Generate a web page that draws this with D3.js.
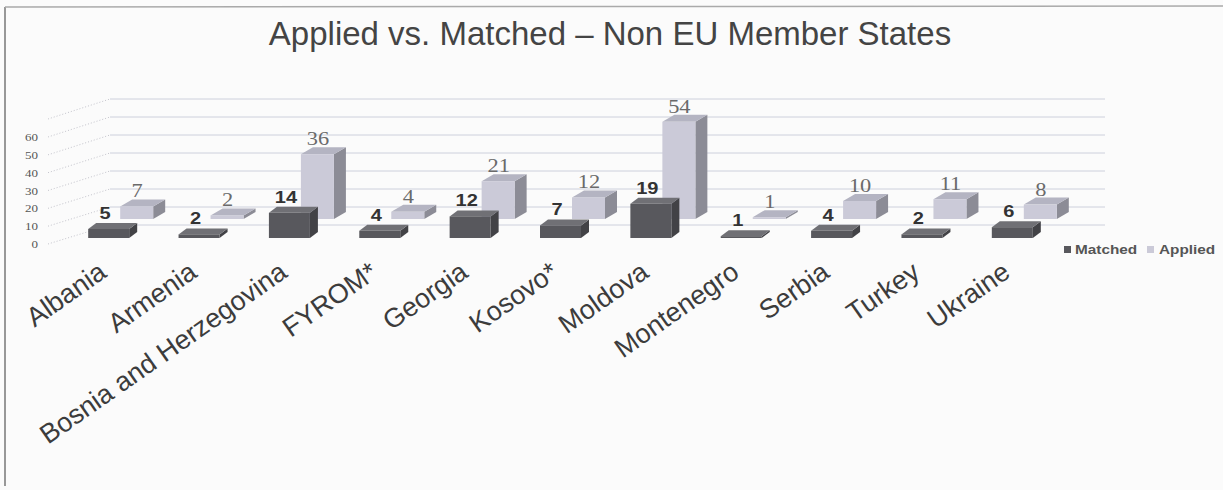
<!DOCTYPE html>
<html>
<head>
<meta charset="utf-8">
<script src="https://cdn.jsdelivr.net/npm/d3@7"></script>
<style>
  body { margin: 0; background: #fbfbfb; }
  svg { display: block; }
</style>
</head>
<body>
<div id="container"></div>
<script>
// data
const categories = ["Albania", "Armenia", "Bosnia and Herzegovina", "FYROM*", "Georgia",
  "Kosovo*", "Moldova", "Montenegro", "Serbia", "Turkey", "Ukraine"];
const matched = [5, 2, 14, 4, 12, 7, 19, 1, 4, 2, 6];
const applied = [7, 2, 36, 4, 21, 12, 54, 1, 10, 11, 8];
const yTickValues = [0, 10, 20, 30, 40, 50, 60];
const gridValues = [0, 10, 20, 30, 40, 50, 60, 70];

const width = 1223, height = 490;
const SX = 1.18; // small text in the scan looks a bit wide

let svg = d3.select('#container')
  .append('svg')
  .attr('width', width)
  .attr('height', height);

svg.append('rect').attr('width', width).attr('height', height).attr('fill', '#fbfbfb');

// frame
svg.append('line').attr('x1', 5).attr('y1', 7).attr('x2', 5).attr('y2', 486)
  .attr('stroke', '#777').attr('stroke-width', 1.5);
svg.append('line').attr('x1', 5).attr('y1', 7).attr('x2', width).attr('y2', 6)
  .attr('stroke', '#aaa').attr('stroke-width', 1.5);

let x = d3.scaleBand().domain(categories).range([65, 1059]);
let cx = d => x(d) + x.bandwidth() / 2;

// front row (Matched) and back row (Applied) have their own floor
let yFront = d3.scaleLinear().domain([0, 70]).range([238, 112]);
let yBack = d3.scaleLinear().domain([0, 70]).range([219, 93]);
let yWall = d3.scaleLinear().domain([0, 70]).range([225, 99]);
let yAxisFront = d3.scaleLinear().domain([0, 60]).range([244, 137]);

// back wall gridlines
let grid = svg.append('g');
grid.selectAll('line.wall')
  .data(gridValues)
  .enter()
  .append('line')
  .attr('x1', 110).attr('x2', 1105)
  .attr('y1', d => yWall(d)).attr('y2', d => yWall(d))
  .attr('stroke', '#cdd0dc').attr('stroke-width', 1);

// side wall diagonals
grid.selectAll('line.side')
  .data(gridValues)
  .enter()
  .append('line')
  .attr('x1', 48).attr('x2', 110)
  .attr('y1', d => yAxisFront(Math.min(d, 60)) - (d > 60 ? 18 : 0)).attr('y2', d => yWall(d))
  .attr('stroke', '#c4c4cc').attr('stroke-width', 1).attr('stroke-dasharray', '1,2');

// y axis labels
svg.append('g').selectAll('text')
  .data(yTickValues)
  .enter()
  .append('text')
  .attr('transform', d => `translate(38,${yAxisFront(d) + 4}) scale(${SX},1)`)
  .attr('text-anchor', 'end')
  .attr('font-family', 'Liberation Serif, serif')
  .attr('font-size', 11)
  .attr('fill', '#555')
  .text(d => d);

function drawBars(values, yScale, left, right, ddx, ddy, colors) {
  let g = svg.append('g');
  let rows = categories.map((c, i) => ({ c: c, v: values[i] }));
  let bar = g.selectAll('g')
    .data(rows)
    .enter()
    .append('g');
  // side face
  bar.append('polygon')
    .attr('points', d => {
      let x1 = cx(d.c) + right, y0 = yScale(0), y1 = yScale(d.v);
      return [[x1, y0], [x1 + ddx, y0 + ddy], [x1 + ddx, y1 + ddy], [x1, y1]].join(' ');
    })
    .attr('fill', colors.side);
  // top face
  bar.append('polygon')
    .attr('points', d => {
      let x0 = cx(d.c) + left, x1 = cx(d.c) + right, y1 = yScale(d.v);
      return [[x0, y1], [x1, y1], [x1 + ddx, y1 + ddy], [x0 + ddx, y1 + ddy]].join(' ');
    })
    .attr('fill', colors.top);
  // front face
  bar.append('rect')
    .attr('x', d => cx(d.c) + left)
    .attr('y', d => yScale(d.v))
    .attr('width', right - left)
    .attr('height', d => yScale(0) - yScale(d.v))
    .attr('fill', colors.front);
  return rows;
}

let appliedRows = drawBars(applied, yBack, 10, 43, 12, -7,
  { front: '#cbcad8', top: '#b4b4c2', side: '#8c8c96' });
let matchedRows = drawBars(matched, yFront, -22, 19, 8, -6,
  { front: '#58585d', top: '#707075', side: '#424246' });

// value labels
svg.append('g').selectAll('text')
  .data(appliedRows)
  .enter()
  .append('text')
  .attr('transform', d => `translate(${cx(d.c) + 27},${yBack(d.v) - 9}) scale(${SX},1)`)
  .attr('text-anchor', 'middle')
  .attr('font-family', 'Liberation Serif, serif')
  .attr('font-size', 19)
  .attr('fill', '#6a6a6a')
  .text(d => d.v);

svg.append('g').selectAll('text')
  .data(matchedRows)
  .enter()
  .append('text')
  .attr('transform', d => `translate(${cx(d.c) - 5},${yFront(d.v) - 10}) scale(${SX},1)`)
  .attr('text-anchor', 'middle')
  .attr('font-family', 'Liberation Sans, Arial, sans-serif')
  .attr('font-weight', 'bold')
  .attr('font-size', 17)
  .attr('fill', '#333')
  .text(d => d.v);

// category labels
svg.append('g').selectAll('text')
  .data(categories)
  .enter()
  .append('text')
  .attr('transform', d => `translate(${cx(d) - 2},276) rotate(-35)`)
  .attr('text-anchor', 'end')
  .attr('font-family', 'Liberation Sans, Arial, sans-serif')
  .attr('font-size', 27)
  .attr('fill', '#3c3c3c')
  .text(d => d);

// title
svg.append('text')
  .attr('x', 610)
  .attr('y', 45)
  .attr('text-anchor', 'middle')
  .attr('font-family', 'Liberation Sans, Arial, sans-serif')
  .attr('font-size', 33)
  .attr('fill', '#444')
  .text('Applied vs. Matched \u2013 Non EU Member States');

// legend
let legend = svg.append('g').attr('transform', 'translate(1064,254)');
legend.append('rect').attr('x', 0).attr('y', -8).attr('width', 7).attr('height', 7).attr('fill', '#58585d');
legend.append('text')
  .attr('transform', `translate(11,0) scale(${SX},1)`)
  .attr('font-family', 'Liberation Sans, Arial, sans-serif')
  .attr('font-weight', 'bold').attr('font-size', 13).attr('fill', '#555')
  .text('Matched');
legend.append('rect').attr('x', 83).attr('y', -8).attr('width', 7).attr('height', 7).attr('fill', '#cbcad8');
legend.append('text')
  .attr('transform', `translate(95,0) scale(${SX},1)`)
  .attr('font-family', 'Liberation Sans, Arial, sans-serif')
  .attr('font-weight', 'bold').attr('font-size', 13).attr('fill', '#555')
  .text('Applied');
</script>
</body>
</html>
